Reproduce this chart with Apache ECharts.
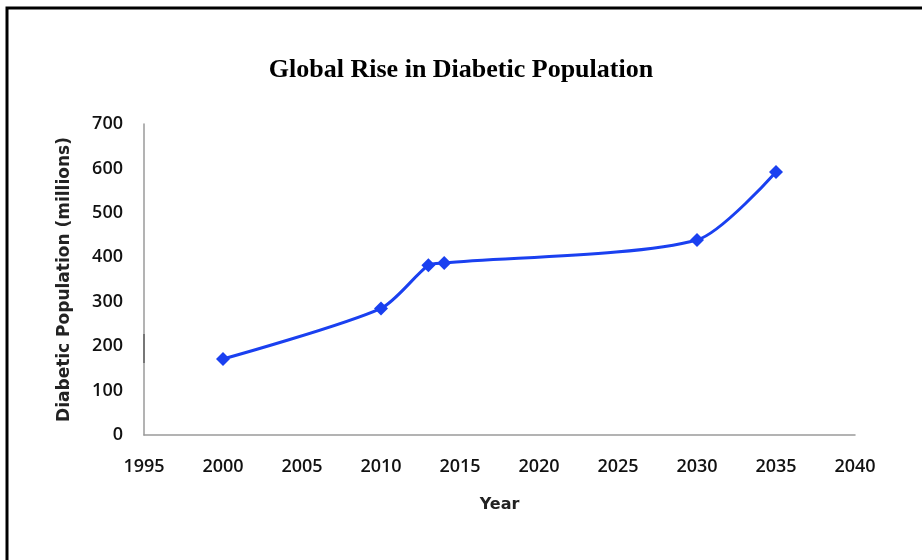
<!DOCTYPE html>
<html>
<head>
<meta charset="utf-8">
<script src="https://cdn.jsdelivr.net/npm/echarts@6/dist/echarts.min.js"></script>
<style>
html,body{margin:0;padding:0;background:#fff;}
#c{width:922px;height:560px;}
</style>
</head>
<body>
<div id="c"></div>
<script>
var titleText = "Global Rise in Diabetic Population";
var xName = "Year";
var yName = "Diabetic Population (millions)";
var years = [2000, 2010, 2013, 2014, 2030, 2035];
var population = [171, 285, 382, 387, 439, 592];

var chart = echarts.init(document.getElementById('c'));
var pts = years.map(function(y, i){ return [y, population[i]]; });
chart.setOption({
  animation: false,
  backgroundColor: '#fff',
  title: {
    text: titleText,
    left: 'center',
    top: 52,
    textStyle: { fontFamily: 'Liberation Serif', fontWeight: 'bold', fontSize: 26, color: '#000' }
  },
  grid: { left: 144, right: 67, top: 124, bottom: 125 },
  xAxis: {
    type: 'value', min: 1995, max: 2040, interval: 5,
    name: xName, nameLocation: 'middle', nameGap: 62,
    nameTextStyle: { fontFamily: 'DejaVu Sans', fontWeight: 'bold', fontSize: 16, color: '#222' },
    axisLine: { lineStyle: { color: '#9a9a9a', width: 1.5 } },
    axisTick: { show: false },
    splitLine: { show: false },
    axisLabel: { margin: 23, fontFamily: 'Open Sans', fontWeight: 600, fontSize: 18, color: '#111',
      formatter: function(v){ return String(v); } }
  },
  yAxis: {
    type: 'value', min: 0, max: 700, interval: 100,
    name: yName, nameLocation: 'middle', nameRotate: 90, nameGap: 71,
    nameTextStyle: { fontFamily: 'DejaVu Sans', fontWeight: 'bold', fontSize: 17, color: '#222' },
    axisLine: { show: true, lineStyle: { color: '#9a9a9a', width: 1.5 } },
    axisTick: { show: false },
    splitLine: { show: false },
    axisLabel: { margin: 21, fontFamily: 'Open Sans', fontWeight: 600, fontSize: 18, color: '#111' }
  },
  series: [{
    type: 'line',
    data: pts,
    smooth: 0.25,
    symbol: 'diamond',
    symbolSize: 14,
    lineStyle: { color: '#1a40f0', width: 3 },
    itemStyle: { color: '#1a40f0' }
  }],
  graphic: [
    { type: 'rect', shape: { x: 7, y: 8, width: 940, height: 570 }, style: { fill: 'none', stroke: '#000', lineWidth: 3 } },
    { type: 'line', shape: { x1: 144, y1: 334, x2: 144, y2: 363 }, style: { stroke: '#111', lineWidth: 2 } }
  ]
});
</script>
</body>
</html>
